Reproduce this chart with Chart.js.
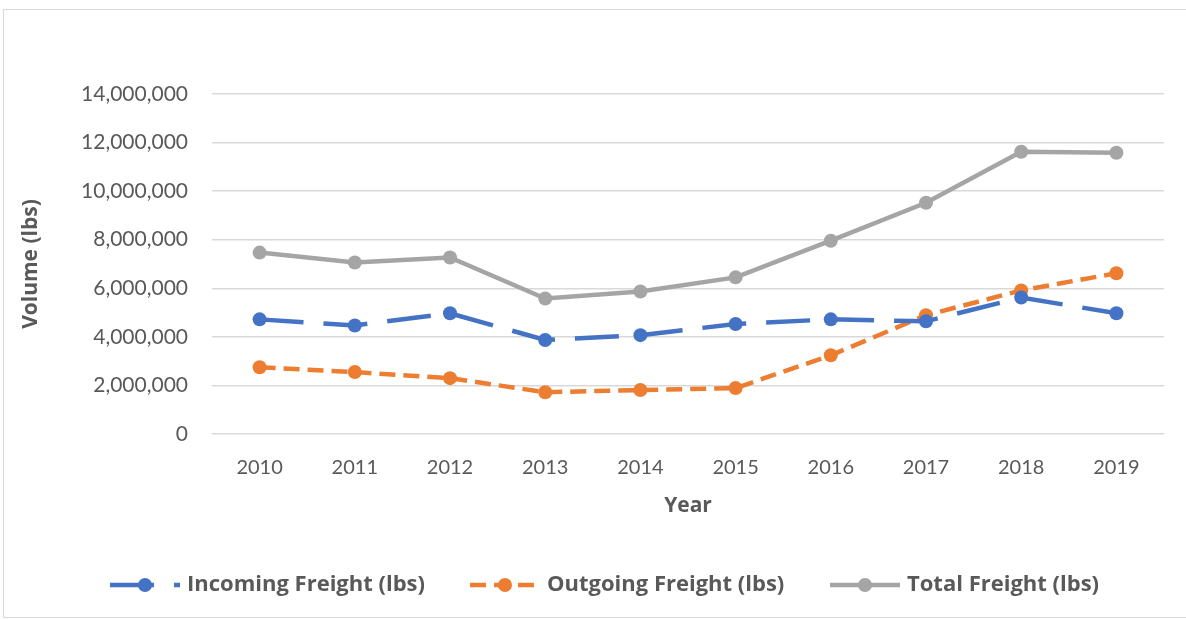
<!DOCTYPE html>
<html>
<head>
<meta charset="utf-8">
<script src="https://cdn.jsdelivr.net/npm/chart.js@4"></script>
<style>
  html, body { margin: 0; padding: 0; background: #fff; }
  #wrap { position: relative; width: 1186px; height: 619px; overflow: hidden; }
  #frame { position: absolute; left: 3px; top: 9px; width: 1200px; height: 607px; border: 1px solid #d9d9d9; }
  canvas { position: absolute; left: 0; top: 0; }
</style>
</head>
<body>
<div id="wrap">
  <div id="frame"></div>
  <canvas id="myChart" width="1186" height="619"></canvas>
</div>
<script>
var years = ['2010', '2011', '2012', '2013', '2014', '2015', '2016', '2017', '2018', '2019'];
var incomingFreight = [4720000, 4470000, 4970000, 3870000, 4070000, 4530000, 4720000, 4640000, 5620000, 4970000];
var outgoingFreight = [2750000, 2550000, 2300000, 1720000, 1810000, 1890000, 3240000, 4890000, 5910000, 6620000];
var totalFreight = [7470000, 7060000, 7270000, 5580000, 5870000, 6450000, 7960000, 9520000, 11620000, 11580000];
var seriesNames = ['Incoming Freight (lbs)', 'Outgoing Freight (lbs)', 'Total Freight (lbs)'];

var textColor = '#595959';
var fontFamily = 'Lato, "Open Sans", sans-serif';
var boldFamily = '"Open Sans", Lato, sans-serif';

// legend like Excel: a line sample with the marker, then the name
var bottomLegend = {
    id: 'bottomLegend',
    afterDraw: function (chart) {
        var ctx = chart.ctx;
        var textX = [187, 547, 907];
        var y = 585;
        ctx.save();
        chart.data.datasets.forEach(function (ds, i) {
            var x0 = textX[i] - 77, x1 = textX[i] - 7;
            ctx.beginPath();
            ctx.setLineDash(ds.borderDash || []);
            ctx.lineWidth = ds.borderWidth;
            ctx.strokeStyle = ds.borderColor;
            ctx.moveTo(x0, y);
            ctx.lineTo(x1, y);
            ctx.stroke();
            ctx.setLineDash([]);
            ctx.beginPath();
            ctx.fillStyle = ds.borderColor;
            ctx.arc(x0 + 35, y, ds.pointRadius, 0, Math.PI * 2);
            ctx.fill();
            ctx.font = 'bold 22px ' + boldFamily;
            ctx.fillStyle = textColor;
            ctx.textBaseline = 'middle';
            ctx.fillText(ds.label, textX[i], y);
        });
        ctx.restore();
    }
};

const ctx = document.getElementById('myChart');
new Chart(ctx, {
    type: 'line',
    data: {
        labels: years,
        datasets: [
            {
                label: seriesNames[0],
                data: incomingFreight,
                borderColor: '#4472C4',
                backgroundColor: '#4472C4',
                borderWidth: 4.5,
                borderDash: [44, 20],
                pointRadius: 7,
                pointBorderWidth: 0,
                tension: 0
            },
            {
                label: seriesNames[1],
                data: outgoingFreight,
                borderColor: '#ED7D31',
                backgroundColor: '#ED7D31',
                borderWidth: 4.5,
                borderDash: [16, 8],
                pointRadius: 7,
                pointBorderWidth: 0,
                tension: 0
            },
            {
                label: seriesNames[2],
                data: totalFreight,
                borderColor: '#A5A5A5',
                backgroundColor: '#A5A5A5',
                borderWidth: 4.5,
                pointRadius: 7,
                pointBorderWidth: 0,
                tension: 0
            }
        ]
    },
    options: {
        responsive: false,
        animation: false,
        layout: { padding: { left: 18, top: 94, right: 22, bottom: 85 } },
        plugins: {
            legend: { display: false },
            tooltip: { enabled: false }
        },
        scales: {
            x: {
                offset: true,
                grid: { display: false },
                border: { display: false },
                ticks: { color: textColor, font: { family: fontFamily, size: 20 }, padding: 14 },
                title: { display: true, text: 'Year', color: textColor, font: { family: boldFamily, size: 21, weight: 'bold' }, padding: { top: 5, bottom: 15 } },
                afterFit: function (scale) { scale.height = 100; }
            },
            y: {
                min: 0,
                max: 14000000,
                ticks: {
                    stepSize: 2000000,
                    color: textColor,
                    font: { family: fontFamily, size: 21 },
                    padding: 24,
                    callback: function (v) { return v.toLocaleString('en-US'); }
                },
                grid: { color: '#d9d9d9', lineWidth: 1.5, drawTicks: false },
                border: { display: false },
                title: { display: true, text: 'Volume (lbs)', color: textColor, font: { family: boldFamily, size: 21, weight: 'bold' }, padding: { top: 0, bottom: 10 } },
                afterFit: function (scale) { scale.width = 194; }
            }
        }
    },
    plugins: [bottomLegend]
});
</script>
</body>
</html>
